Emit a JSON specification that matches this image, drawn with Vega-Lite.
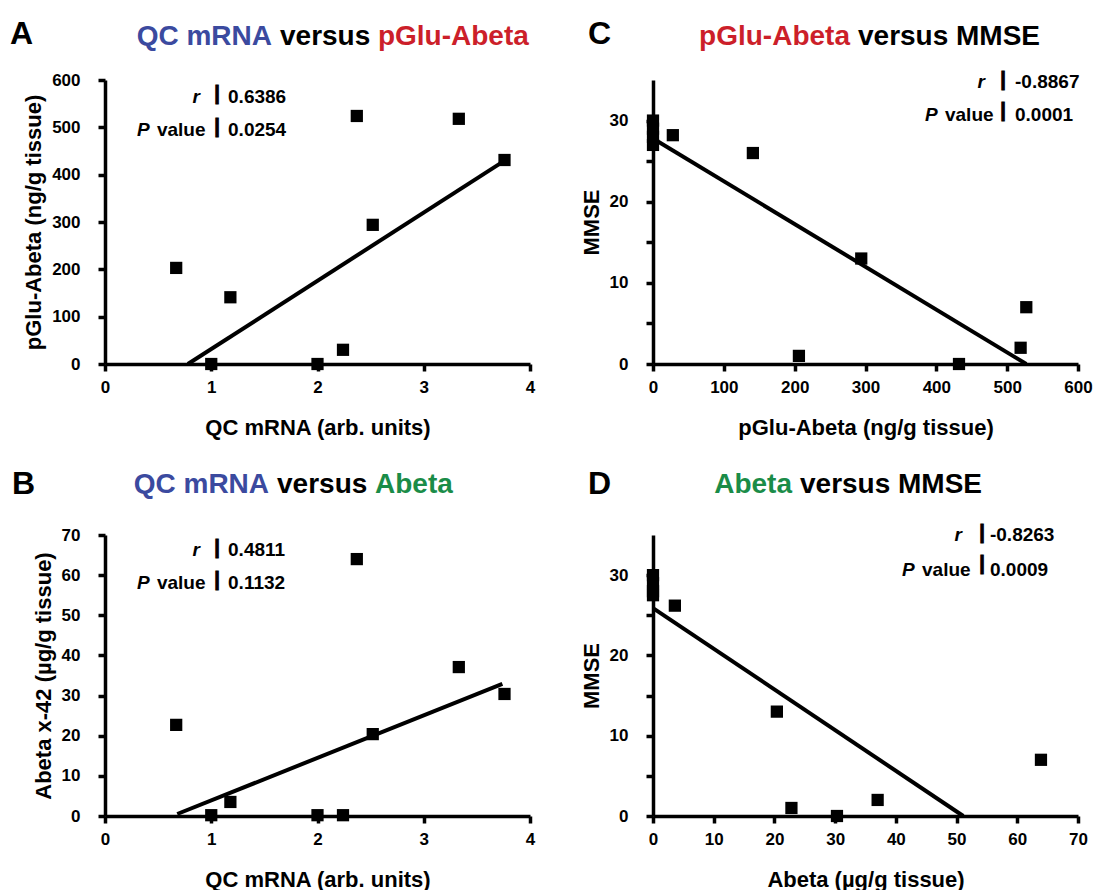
{
"$schema": "https://vega.github.io/schema/vega-lite/v6.json",
"padding": {"left": 10, "top": 17, "right": 0, "bottom": 0},
"autosize": {"type": "pad"},
"columns": 2,
"spacing": {"row": 171, "column": 123},
"bounds": "flush",
"datasets": {
 "A": [{"qc":0.67,"pglu":203},{"qc":1.0,"pglu":0},{"qc":1.18,"pglu":141},{"qc":2.0,"pglu":0},{"qc":2.24,"pglu":30},{"qc":2.37,"pglu":524},{"qc":2.52,"pglu":294},{"qc":3.33,"pglu":518},{"qc":3.76,"pglu":431}],
 "Aline": [{"qc":0.78,"pglu":0},{"qc":3.75,"pglu":428}],
 "B": [{"qc":0.67,"abeta":22.7},{"qc":1.0,"abeta":0.2},{"qc":1.18,"abeta":3.5},{"qc":2.0,"abeta":0.2},{"qc":2.24,"abeta":0.2},{"qc":2.37,"abeta":64.0},{"qc":2.52,"abeta":20.4},{"qc":3.33,"abeta":37.1},{"qc":3.76,"abeta":30.4}],
 "Bline": [{"qc":0.68,"abeta":0.5},{"qc":3.74,"abeta":32.9}],
 "C": [{"pglu":0,"mmse":30},{"pglu":0,"mmse":29},{"pglu":0,"mmse":28},{"pglu":0,"mmse":27},{"pglu":28,"mmse":28.2},{"pglu":141,"mmse":26},{"pglu":206,"mmse":1},{"pglu":294,"mmse":13},{"pglu":432,"mmse":0},{"pglu":519,"mmse":2},{"pglu":527,"mmse":7}],
 "Cline": [{"pglu":0,"mmse":27.8},{"pglu":527,"mmse":0}],
 "D": [{"abeta":0,"mmse":30},{"abeta":0,"mmse":29},{"abeta":0,"mmse":28},{"abeta":0,"mmse":27.5},{"abeta":3.6,"mmse":26.2},{"abeta":20.4,"mmse":13},{"abeta":22.8,"mmse":1},{"abeta":30.3,"mmse":0},{"abeta":37,"mmse":2},{"abeta":63.9,"mmse":7}],
 "Dline": [{"abeta":0,"mmse":25.9},{"abeta":51.1,"mmse":0}]
},
"concat": [
 {
  "width": 425, "height": 284,
  "layer": [
   {"data": {"name": "A"}, "mark": {"type": "square", "size": 150, "color": "black", "opacity": 1},
    "encoding": {
     "x": {"field": "qc", "type": "quantitative", "scale": {"domain": [0, 4], "nice": false}, "axis": {"values": [0,1,2,3,4], "format": "d", "title": "QC mRNA (arb. units)"}},
     "y": {"field": "pglu", "type": "quantitative", "scale": {"domain": [0, 600], "nice": false}, "axis": {"values": [0,100,200,300,400,500,600], "title": "pGlu-Abeta (ng/g tissue)"}}}},
   {"data": {"name": "Aline"}, "mark": {"type": "line", "color": "black", "strokeWidth": 4},
    "encoding": {"x": {"field": "qc", "type": "quantitative"}, "y": {"field": "pglu", "type": "quantitative"}}},
   {"data": {"values": [{}]}, "mark": {"type": "text", "text": "A", "align": "left", "baseline": "alphabetic", "fontSize": 32, "fontWeight": "bold", "color": "black"},
    "encoding": {"x": {"datum": -0.894, "type": "quantitative"}, "y": {"datum": 676, "type": "quantitative"}}},
   {"data": {"values": [{}]}, "mark": {"type": "text", "text": "QC mRNA", "align": "right", "baseline": "alphabetic", "fontSize": 28, "fontWeight": "bold", "color": "#3b4a9f"},
    "encoding": {"x": {"datum": 1.572, "type": "quantitative"}, "y": {"datum": 674, "type": "quantitative"}}},
   {"data": {"values": [{}]}, "mark": {"type": "text", "text": "versus", "align": "left", "baseline": "alphabetic", "fontSize": 28, "fontWeight": "bold", "color": "black"},
    "encoding": {"x": {"datum": 1.647, "type": "quantitative"}, "y": {"datum": 674, "type": "quantitative"}}},
   {"data": {"values": [{}]}, "mark": {"type": "text", "text": "pGlu-Abeta", "align": "left", "baseline": "alphabetic", "fontSize": 28, "fontWeight": "bold", "color": "#cc1f2a"},
    "encoding": {"x": {"datum": 2.569, "type": "quantitative"}, "y": {"datum": 674, "type": "quantitative"}}},
   {"data": {"values": [{}]}, "mark": {"type": "text", "text": "r", "align": "right", "baseline": "alphabetic", "fontSize": 19, "fontWeight": "bold", "fontStyle": "italic", "color": "black"},
    "encoding": {"x": {"datum": 0.894, "type": "quantitative"}, "y": {"datum": 551.4, "type": "quantitative"}}},
   {"data": {"values": [{}]}, "mark": {"type": "text", "text": "P", "align": "left", "baseline": "alphabetic", "fontSize": 19, "fontWeight": "bold", "fontStyle": "italic", "color": "black"},
    "encoding": {"x": {"datum": 0.301, "type": "quantitative"}, "y": {"datum": 481.7, "type": "quantitative"}}},
   {"data": {"values": [{}]}, "mark": {"type": "text", "text": "value", "align": "left", "baseline": "alphabetic", "fontSize": 19, "fontWeight": "bold", "color": "black"},
    "encoding": {"x": {"datum": 0.489, "type": "quantitative"}, "y": {"datum": 481.7, "type": "quantitative"}}},
   {"data": {"values": [{}]}, "mark": {"type": "text", "text": ["|", "|"], "lineHeight": 33, "align": "center", "baseline": "alphabetic", "fontSize": 20, "fontWeight": "bold", "color": "black", "stroke": "black", "strokeWidth": 1},
    "encoding": {"x": {"datum": 1.054, "type": "quantitative"}, "y": {"datum": 557.8, "type": "quantitative"}}},
   {"data": {"values": [{}]}, "mark": {"type": "text", "text": ["0.6386", "0.0254"], "lineHeight": 33, "align": "left", "baseline": "alphabetic", "fontSize": 19, "fontWeight": "bold", "color": "black"},
    "encoding": {"x": {"datum": 1.158, "type": "quantitative"}, "y": {"datum": 551.4, "type": "quantitative"}}}
  ]
 },
 {
  "width": 425, "height": 284,
  "layer": [
   {"data": {"name": "C"}, "mark": {"type": "square", "size": 150, "color": "black", "opacity": 1},
    "encoding": {
     "x": {"field": "pglu", "type": "quantitative", "scale": {"domain": [0, 600], "nice": false}, "axis": {"values": [0,100,200,300,400,500,600], "title": "pGlu-Abeta (ng/g tissue)"}},
     "y": {"field": "mmse", "type": "quantitative", "scale": {"domain": [0, 35], "nice": false}, "axis": {"values": [0,5,10,15,20,25,30], "labelExpr": "datum.value % 10 === 0 ? datum.label : ''", "title": "MMSE"}}}},
   {"data": {"name": "Cline"}, "mark": {"type": "line", "color": "black", "strokeWidth": 4},
    "encoding": {"x": {"field": "pglu", "type": "quantitative"}, "y": {"field": "mmse", "type": "quantitative"}}},
   {"data": {"values": [{}]}, "mark": {"type": "text", "text": "C", "align": "left", "baseline": "alphabetic", "fontSize": 32, "fontWeight": "bold", "color": "black"},
    "encoding": {"x": {"datum": -91.8, "type": "quantitative"}, "y": {"datum": 39.44, "type": "quantitative"}}},
   {"data": {"values": [{}]}, "mark": {"type": "text", "text": "pGlu-Abeta", "align": "right", "baseline": "alphabetic", "fontSize": 28, "fontWeight": "bold", "color": "#cc1f2a"},
    "encoding": {"x": {"datum": 278.1, "type": "quantitative"}, "y": {"datum": 39.31, "type": "quantitative"}}},
   {"data": {"values": [{}]}, "mark": {"type": "text", "text": "versus", "align": "left", "baseline": "alphabetic", "fontSize": 28, "fontWeight": "bold", "color": "black"},
    "encoding": {"x": {"datum": 289.4, "type": "quantitative"}, "y": {"datum": 39.31, "type": "quantitative"}}},
   {"data": {"values": [{}]}, "mark": {"type": "text", "text": "MMSE", "align": "left", "baseline": "alphabetic", "fontSize": 28, "fontWeight": "bold", "color": "black"},
    "encoding": {"x": {"datum": 427.8, "type": "quantitative"}, "y": {"datum": 39.31, "type": "quantitative"}}},
   {"data": {"values": [{}]}, "mark": {"type": "text", "text": "r", "align": "right", "baseline": "alphabetic", "fontSize": 19, "fontWeight": "bold", "fontStyle": "italic", "color": "black"},
    "encoding": {"x": {"datum": 468.7, "type": "quantitative"}, "y": {"datum": 34.01, "type": "quantitative"}}},
   {"data": {"values": [{}]}, "mark": {"type": "text", "text": "P", "align": "left", "baseline": "alphabetic", "fontSize": 19, "fontWeight": "bold", "fontStyle": "italic", "color": "black"},
    "encoding": {"x": {"datum": 384, "type": "quantitative"}, "y": {"datum": 29.95, "type": "quantitative"}}},
   {"data": {"values": [{}]}, "mark": {"type": "text", "text": "value", "align": "left", "baseline": "alphabetic", "fontSize": 19, "fontWeight": "bold", "color": "black"},
    "encoding": {"x": {"datum": 412.2, "type": "quantitative"}, "y": {"datum": 29.95, "type": "quantitative"}}},
   {"data": {"values": [{}]}, "mark": {"type": "text", "text": ["|", "|"], "lineHeight": 31, "align": "center", "baseline": "alphabetic", "fontSize": 20, "fontWeight": "bold", "color": "black", "stroke": "black", "strokeWidth": 1},
    "encoding": {"x": {"datum": 494.1, "type": "quantitative"}, "y": {"datum": 34.26, "type": "quantitative"}}},
   {"data": {"values": [{}]}, "mark": {"type": "text", "text": ["-0.8867", "0.0001"], "lineHeight": 33, "align": "left", "baseline": "alphabetic", "fontSize": 19, "fontWeight": "bold", "color": "black"},
    "encoding": {"x": {"datum": 511.1, "type": "quantitative"}, "y": {"datum": 34.01, "type": "quantitative"}}}
  ]
 },
 {
  "width": 425, "height": 281,
  "layer": [
   {"data": {"name": "B"}, "mark": {"type": "square", "size": 150, "color": "black", "opacity": 1},
    "encoding": {
     "x": {"field": "qc", "type": "quantitative", "scale": {"domain": [0, 4], "nice": false}, "axis": {"values": [0,1,2,3,4], "format": "d", "title": "QC mRNA (arb. units)"}},
     "y": {"field": "abeta", "type": "quantitative", "scale": {"domain": [0, 70], "nice": false}, "axis": {"values": [0,10,20,30,40,50,60,70], "title": "Abeta x-42 (µg/g tissue)"}}}},
   {"data": {"name": "Bline"}, "mark": {"type": "line", "color": "black", "strokeWidth": 4},
    "encoding": {"x": {"field": "qc", "type": "quantitative"}, "y": {"field": "abeta", "type": "quantitative"}}},
   {"data": {"values": [{}]}, "mark": {"type": "text", "text": "B", "align": "left", "baseline": "alphabetic", "fontSize": 32, "fontWeight": "bold", "color": "black"},
    "encoding": {"x": {"datum": -0.875, "type": "quantitative"}, "y": {"datum": 80.21, "type": "quantitative"}}},
   {"data": {"values": [{}]}, "mark": {"type": "text", "text": "QC mRNA", "align": "right", "baseline": "alphabetic", "fontSize": 28, "fontWeight": "bold", "color": "#3b4a9f"},
    "encoding": {"x": {"datum": 1.544, "type": "quantitative"}, "y": {"datum": 80.46, "type": "quantitative"}}},
   {"data": {"values": [{}]}, "mark": {"type": "text", "text": "versus", "align": "left", "baseline": "alphabetic", "fontSize": 28, "fontWeight": "bold", "color": "black"},
    "encoding": {"x": {"datum": 1.619, "type": "quantitative"}, "y": {"datum": 80.46, "type": "quantitative"}}},
   {"data": {"values": [{}]}, "mark": {"type": "text", "text": "Abeta", "align": "left", "baseline": "alphabetic", "fontSize": 28, "fontWeight": "bold", "color": "#1a8c48"},
    "encoding": {"x": {"datum": 2.541, "type": "quantitative"}, "y": {"datum": 80.46, "type": "quantitative"}}},
   {"data": {"values": [{}]}, "mark": {"type": "text", "text": "r", "align": "right", "baseline": "alphabetic", "fontSize": 19, "fontWeight": "bold", "fontStyle": "italic", "color": "black"},
    "encoding": {"x": {"datum": 0.894, "type": "quantitative"}, "y": {"datum": 64.77, "type": "quantitative"}}},
   {"data": {"values": [{}]}, "mark": {"type": "text", "text": "P", "align": "left", "baseline": "alphabetic", "fontSize": 19, "fontWeight": "bold", "fontStyle": "italic", "color": "black"},
    "encoding": {"x": {"datum": 0.301, "type": "quantitative"}, "y": {"datum": 56.55, "type": "quantitative"}}},
   {"data": {"values": [{}]}, "mark": {"type": "text", "text": "value", "align": "left", "baseline": "alphabetic", "fontSize": 19, "fontWeight": "bold", "color": "black"},
    "encoding": {"x": {"datum": 0.489, "type": "quantitative"}, "y": {"datum": 56.55, "type": "quantitative"}}},
   {"data": {"values": [{}]}, "mark": {"type": "text", "text": ["|", "|"], "lineHeight": 32, "align": "center", "baseline": "alphabetic", "fontSize": 20, "fontWeight": "bold", "color": "black", "stroke": "black", "strokeWidth": 1},
    "encoding": {"x": {"datum": 1.054, "type": "quantitative"}, "y": {"datum": 65.27, "type": "quantitative"}}},
   {"data": {"values": [{}]}, "mark": {"type": "text", "text": ["0.4811", "0.1132"], "lineHeight": 33, "align": "left", "baseline": "alphabetic", "fontSize": 19, "fontWeight": "bold", "color": "black"},
    "encoding": {"x": {"datum": 1.158, "type": "quantitative"}, "y": {"datum": 64.77, "type": "quantitative"}}}
  ]
 },
 {
  "width": 425, "height": 281,
  "layer": [
   {"data": {"name": "D"}, "mark": {"type": "square", "size": 150, "color": "black", "opacity": 1},
    "encoding": {
     "x": {"field": "abeta", "type": "quantitative", "scale": {"domain": [0, 70], "nice": false}, "axis": {"values": [0,10,20,30,40,50,60,70], "title": "Abeta (µg/g tissue)"}},
     "y": {"field": "mmse", "type": "quantitative", "scale": {"domain": [0, 35], "nice": false}, "axis": {"values": [0,5,10,15,20,25,30], "labelExpr": "datum.value % 10 === 0 ? datum.label : ''", "title": "MMSE"}}}},
   {"data": {"name": "Dline"}, "mark": {"type": "line", "color": "black", "strokeWidth": 4},
    "encoding": {"x": {"field": "abeta", "type": "quantitative"}, "y": {"field": "mmse", "type": "quantitative"}}},
   {"data": {"values": [{}]}, "mark": {"type": "text", "text": "D", "align": "left", "baseline": "alphabetic", "fontSize": 32, "fontWeight": "bold", "color": "black"},
    "encoding": {"x": {"datum": -10.7, "type": "quantitative"}, "y": {"datum": 40.1, "type": "quantitative"}}},
   {"data": {"values": [{}]}, "mark": {"type": "text", "text": "Abeta", "align": "right", "baseline": "alphabetic", "fontSize": 28, "fontWeight": "bold", "color": "#1a8c48"},
    "encoding": {"x": {"datum": 22.89, "type": "quantitative"}, "y": {"datum": 40.23, "type": "quantitative"}}},
   {"data": {"values": [{}]}, "mark": {"type": "text", "text": "versus", "align": "left", "baseline": "alphabetic", "fontSize": 28, "fontWeight": "bold", "color": "black"},
    "encoding": {"x": {"datum": 24.21, "type": "quantitative"}, "y": {"datum": 40.23, "type": "quantitative"}}},
   {"data": {"values": [{}]}, "mark": {"type": "text", "text": "MMSE", "align": "left", "baseline": "alphabetic", "fontSize": 28, "fontWeight": "bold", "color": "black"},
    "encoding": {"x": {"datum": 40.35, "type": "quantitative"}, "y": {"datum": 40.23, "type": "quantitative"}}},
   {"data": {"values": [{}]}, "mark": {"type": "text", "text": "r", "align": "right", "baseline": "alphabetic", "fontSize": 19, "fontWeight": "bold", "fontStyle": "italic", "color": "black"},
    "encoding": {"x": {"datum": 50.89, "type": "quantitative"}, "y": {"datum": 34.25, "type": "quantitative"}}},
   {"data": {"values": [{}]}, "mark": {"type": "text", "text": "P", "align": "left", "baseline": "alphabetic", "fontSize": 19, "fontWeight": "bold", "fontStyle": "italic", "color": "black"},
    "encoding": {"x": {"datum": 41.01, "type": "quantitative"}, "y": {"datum": 29.89, "type": "quantitative"}}},
   {"data": {"values": [{}]}, "mark": {"type": "text", "text": "value", "align": "left", "baseline": "alphabetic", "fontSize": 19, "fontWeight": "bold", "color": "black"},
    "encoding": {"x": {"datum": 44.31, "type": "quantitative"}, "y": {"datum": 29.89, "type": "quantitative"}}},
   {"data": {"values": [{}]}, "mark": {"type": "text", "text": ["|", "|"], "lineHeight": 31, "align": "center", "baseline": "alphabetic", "fontSize": 20, "fontWeight": "bold", "color": "black", "stroke": "black", "strokeWidth": 1},
    "encoding": {"x": {"datum": 54.19, "type": "quantitative"}, "y": {"datum": 34.5, "type": "quantitative"}}},
   {"data": {"values": [{}]}, "mark": {"type": "text", "text": ["-0.8263", "0.0009"], "lineHeight": 35, "align": "left", "baseline": "alphabetic", "fontSize": 19, "fontWeight": "bold", "color": "black"},
    "encoding": {"x": {"datum": 55.5, "type": "quantitative"}, "y": {"datum": 34.25, "type": "quantitative"}}}
  ]
 }
],
"config": {
 "view": {"stroke": null},
 "font": "Liberation Sans",
 "axis": {
  "domainColor": "black", "domainWidth": 3.5, "tickColor": "black", "tickWidth": 3.5, "tickSize": 7,
  "labelFont": "Liberation Sans Narrow, Liberation Sans", "labelFontSize": 17, "labelFontWeight": "bold", "labelColor": "black",
  "labelFlush": false, "labelOverlap": false,
  "titleFont": "Liberation Sans", "titleFontSize": 22, "titleFontWeight": "bold", "titleColor": "black", "grid": false
 },
 "axisX": {"labelPadding": 8, "titlePadding": 22},
 "axisY": {"labelPadding": 18, "titlePadding": 6}
}
}
